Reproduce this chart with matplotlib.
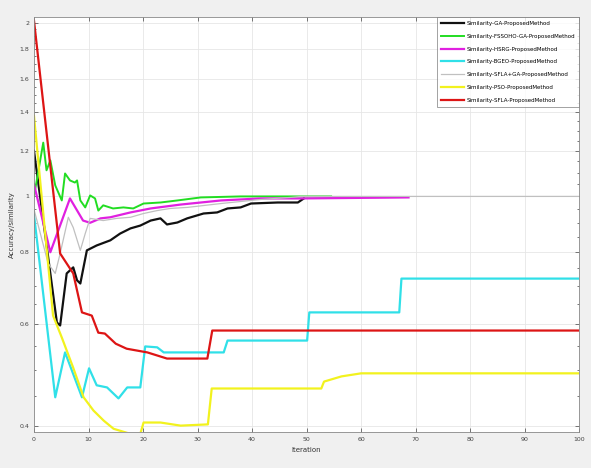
import numpy as np
import matplotlib
matplotlib.use("Agg")
import matplotlib.pyplot as plt
from matplotlib.ticker import FixedLocator, NullFormatter

# values (iteration, similarity)
ga_it = [0, 4.2, 4.8, 6.0, 7.2, 7.9, 8.5, 9.7, 11.5, 14.0, 15.8, 17.7, 19.5, 21.4, 23.2,
         24.4, 26.3, 28.1, 31.1, 33.6, 35.5, 37.9, 39.8, 44.7, 48.4, 49.5]
ga_val = [1.2, 0.604, 0.597, 0.735, 0.753, 0.715, 0.706, 0.806, 0.822, 0.839, 0.862, 0.88,
          0.89, 0.908, 0.916, 0.894, 0.901, 0.916, 0.934, 0.938, 0.953, 0.957, 0.972,
          0.976, 0.976, 0.992]

fss_it = [0, 1.7, 2.3, 3.0, 3.9, 5.1, 5.7, 6.6, 7.5, 7.9, 8.5, 9.4, 10.3, 11.2, 11.8, 12.7,
          14.5, 16.4, 18.2, 20.1, 23.2, 26.3, 30.6, 37.9, 54.5]
fss_val = [1.0, 1.24, 1.11, 1.155, 1.045, 0.984, 1.096, 1.066, 1.057, 1.066, 0.984, 0.957,
           1.004, 0.992, 0.945, 0.965, 0.953, 0.957, 0.953, 0.972, 0.976, 0.984, 0.996,
           1.0, 1.0]

hsrg_it = [0, 3.0, 6.6, 9.0, 10.3, 12.2, 14.0, 17.7, 21.4, 26.9, 34.3, 41.6, 49.0, 68.7]
hsrg_val = [1.05, 0.8, 0.992, 0.908, 0.90, 0.916, 0.92, 0.938, 0.953, 0.968, 0.984,
            0.992, 0.992, 0.996]

bgeo_it = [0, 3.9, 5.7, 8.8, 10.1, 11.5, 13.4, 15.5, 17.1, 19.5, 20.4, 22.6, 23.8, 34.8,
           35.5, 50.1, 50.5, 67.0, 67.4, 100]
bgeo_val = [0.93, 0.448, 0.536, 0.448, 0.503, 0.47, 0.466, 0.446, 0.466, 0.466, 0.549,
            0.547, 0.536, 0.536, 0.562, 0.562, 0.629, 0.629, 0.72, 0.72]

sflaga_it = [0, 2.6, 3.9, 4.8, 6.3, 7.2, 8.5, 9.4, 10.3, 12.7, 15.2, 17.7, 20.1, 22.6, 25.0,
             28.1, 34.3, 41.6, 47.1, 49.0, 100]
sflaga_val = [0.95, 0.765, 0.735, 0.796, 0.92, 0.883, 0.806, 0.862, 0.916, 0.908, 0.916,
              0.92, 0.934, 0.945, 0.953, 0.957, 0.972, 0.988, 0.996, 1.0, 1.0]

pso_it = [0, 2.0, 3.5, 5.1, 7.2, 9.1, 10.9, 12.8, 14.6, 17.7, 19.5, 20.1, 23.2, 26.9, 31.9,
          32.6, 52.7, 53.2, 56.4, 60.0, 100]
pso_val = [1.38, 0.873, 0.621, 0.569, 0.504, 0.448, 0.425, 0.408, 0.395, 0.387, 0.387,
           0.405, 0.405, 0.40, 0.402, 0.464, 0.464, 0.477, 0.487, 0.493, 0.493]

sfla_it = [0, 4.8, 7.2, 8.8, 10.6, 11.8, 13.0, 15.0, 17.0, 20.8, 24.4, 31.8, 32.7, 100]
sfla_val = [2.02, 0.796, 0.735, 0.629, 0.621, 0.58, 0.578, 0.555, 0.544, 0.536, 0.523,
            0.523, 0.585, 0.585]

names = ["Similarity-GA-ProposedMethod",
         "Similarity-FSSOHO-GA-ProposedMethod",
         "Similarity-HSRG-ProposedMethod",
         "Similarity-BGEO-ProposedMethod",
         "Similarity-SFLA+GA-ProposedMethod",
         "Similarity-PSO-ProposedMethod",
         "Similarity-SFLA-ProposedMethod"]

yticks = [0.4, 0.6, 0.8, 1, 1.2, 1.4, 1.6, 1.8, 2]
ytick_labels = ["0.4", "0.6", "0.8", "1", "1.2", "1.4", "1.6", "1.8", "2"]
xticks = list(range(0, 101, 10))

fig = plt.figure(figsize=(5.91, 4.68), dpi=100, facecolor="#f0f0f0")
ax = fig.add_axes([0.0575, 0.077, 0.9225, 0.887])
ax.set_facecolor("white")

ax.plot(ga_it, ga_val, color="#111111", lw=1.6, label=names[0])
ax.plot(fss_it, fss_val, color="#22dd22", lw=1.4, label=names[1])
ax.plot(hsrg_it, hsrg_val, color="#e020e0", lw=1.6, label=names[2])
ax.plot(bgeo_it, bgeo_val, color="#30e0e8", lw=1.6, label=names[3])
ax.plot(sflaga_it, sflaga_val, color="#c0c0c0", lw=0.9, label=names[4])
ax.plot(pso_it, pso_val, color="#f2f21e", lw=1.6, label=names[5])
ax.plot(sfla_it, sfla_val, color="#dd1515", lw=1.6, label=names[6])

ax.set_yscale("log")
ax.set_xlim(0, 100)
ax.set_ylim(0.39, 2.05)
ax.yaxis.set_major_locator(FixedLocator(yticks))
ax.set_yticklabels(ytick_labels)
ax.yaxis.set_minor_locator(FixedLocator(np.arange(0.4, 2.05, 0.05)))
ax.yaxis.set_minor_formatter(NullFormatter())
ax.set_xticks(xticks)

ax.tick_params(which="both", direction="in", top=True, right=True,
               labelsize=4.5, colors="#444444", length=3, width=0.5)
ax.tick_params(which="minor", length=1.5)
ax.grid(True, which="major", color="#e6e6e6", lw=0.6)
for s in ax.spines.values():
    s.set_color("#888888")
    s.set_linewidth(0.6)

ax.set_xlabel("Iteration", fontsize=5, color="#333333", labelpad=4)
ax.set_ylabel("Accuracy/similarity", fontsize=5, color="#333333", labelpad=3)

leg = ax.legend(loc="upper right", fontsize=4.0, frameon=True, fancybox=False,
                borderaxespad=0.05, handlelength=4.2, labelspacing=1.4,
                borderpad=0.7, handletextpad=0.4)
leg.get_frame().set_edgecolor("#777777")
leg.get_frame().set_linewidth(0.6)

fig.savefig("out.png", dpi=100, facecolor=fig.get_facecolor())
